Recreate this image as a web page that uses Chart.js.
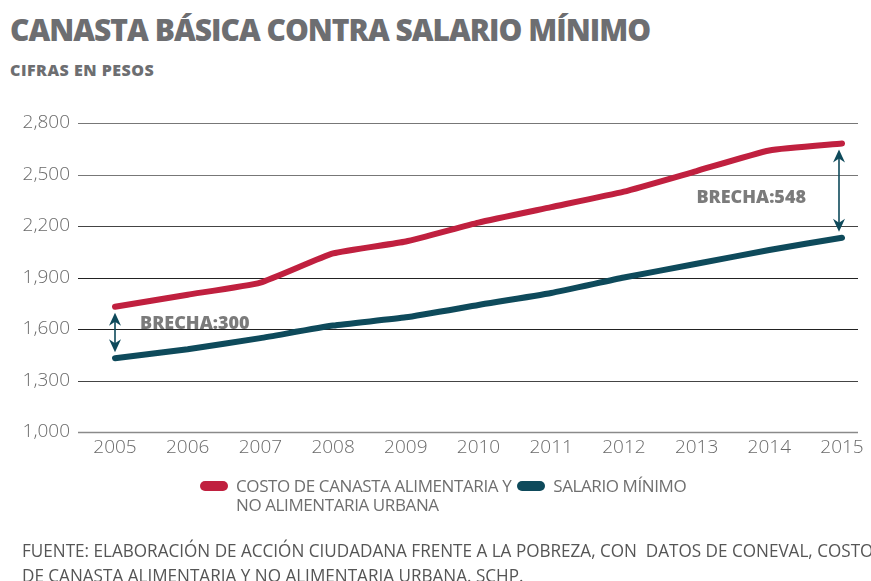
<!DOCTYPE html>
<html>
<head>
<meta charset="utf-8">
<script src="https://cdn.jsdelivr.net/npm/chart.js@4"></script>
<style>
  html,body{margin:0;padding:0;background:#fff;}
  body{width:871px;height:581px;position:relative;overflow:hidden;font-family:"Open Sans",sans-serif;}
  #title{position:absolute;left:10px;top:11px;font-size:30px;font-weight:800;color:#6d6e71;letter-spacing:-1px;white-space:nowrap;line-height:38px;}
  #subtitle{position:absolute;left:10px;top:59px;font-size:16px;font-weight:800;color:#6d6e71;letter-spacing:0.5px;white-space:nowrap;}
  #c{position:absolute;left:0;top:0;}
  #legend{position:absolute;left:200px;top:476px;display:flex;align-items:flex-start;color:#6f6f6f;font-size:17px;line-height:19px;letter-spacing:-0.4px;}
  .item{display:flex;align-items:flex-start;margin-right:6px;}
  .sw{width:28px;height:10px;border-radius:5px;margin-top:5px;margin-right:8px;flex:none;}
  #source{position:absolute;left:22px;top:538px;width:980px;white-space:nowrap;color:#555;font-size:19px;line-height:25px;transform:scaleX(0.9);transform-origin:0 0;}
</style>
</head>
<body>
<div id="title">CANASTA BÁSICA CONTRA SALARIO MÍNIMO</div>
<div id="subtitle">CIFRAS EN PESOS</div>
<canvas id="c" width="871" height="581"></canvas>
<div id="legend"></div>
<div id="source">FUENTE: ELABORACIÓN DE ACCIÓN CIUDADANA FRENTE A LA POBREZA, CON&nbsp; DATOS DE CONEVAL, COSTO<br>DE CANASTA ALIMENTARIA Y NO ALIMENTARIA URBANA. SCHP.</div>
<script>
// ---- data ----
const years = ['2005','2006','2007','2008','2009','2010','2011','2012','2013','2014','2015'];
const canasta = [1730,1800,1870,2040,2110,2220,2310,2400,2520,2640,2680];
const salario = [1430,1482,1547,1620,1668,1740,1810,1900,1980,2060,2132];
const yTicks = [1000,1300,1600,1900,2200,2500,2800];
const seriesLabels = [['COSTO DE CANASTA ALIMENTARIA Y','NO ALIMENTARIA URBANA'],['SALARIO MÍNIMO']];
const gapYears = ['2005','2015'];

const RED = '#c0203f';
const TEAL = '#0e4a5b';
const gridColors = {1000:'#8a8a8a',1300:'#444',1600:'#222',1900:'#222',2200:'#444',2500:'#777',2800:'#777'};

const extGrid = {
  id:'extGrid',
  beforeDatasetsDraw(chart){
    const {ctx, chartArea, scales:{y}} = chart;
    ctx.save();
    yTicks.forEach(v=>{
      const py = Math.round(y.getPixelForValue(v)) + 0.5;
      ctx.strokeStyle = gridColors[v] || '#555';
      ctx.lineWidth = v===1000 ? 1.6 : 1.2;
      ctx.beginPath();
      ctx.moveTo(chartArea.left-37, py);
      ctx.lineTo(chartArea.right+16, py);
      ctx.stroke();
    });
    ctx.restore();
  }
};

function arrowHead(ctx,x,y,dir){
  ctx.beginPath();
  ctx.moveTo(x,y);
  ctx.lineTo(x-6,y+dir*13);
  ctx.lineTo(x,y+dir*9);
  ctx.lineTo(x+6,y+dir*13);
  ctx.closePath();
  ctx.fill();
}

const gapPlugin = {
  id:'gapPlugin',
  afterDatasetsDraw(chart){
    const {ctx, scales:{x,y}} = chart;
    ctx.save();
    gapYears.forEach((yr,i)=>{
      const idx = years.indexOf(yr);
      const top = canasta[idx], bot = salario[idx];
      const px = x.getPixelForValue(idx) - (i===0?0:3);
      const yTop = y.getPixelForValue(top)+6;
      const yBot = y.getPixelForValue(bot)-6;
      ctx.strokeStyle = TEAL; ctx.fillStyle = TEAL; ctx.lineWidth = 1.6;
      ctx.beginPath(); ctx.moveTo(px,yTop+4); ctx.lineTo(px,yBot-4); ctx.stroke();
      arrowHead(ctx,px,yTop,1);
      arrowHead(ctx,px,yBot,-1);
      const txt = 'BRECHA:' + (top-bot);
      ctx.font = '800 18px "Open Sans"';
      ctx.fillStyle = '#7b7b7b';
      ctx.textBaseline = 'middle';
      const mid = (y.getPixelForValue(top)+y.getPixelForValue(bot))/2;
      if(i===0){ ctx.textAlign='left'; ctx.fillText(txt, px+25, mid-9); }
      else { ctx.textAlign='right'; ctx.fillText(txt, px-33, mid+7); }
    });
    ctx.restore();
  }
};

const chart = new Chart(document.getElementById('c'),{
  type:'line',
  data:{
    labels: years,
    datasets:[
      {label:seriesLabels[0].join(' '), data:canasta, borderColor:RED, backgroundColor:RED, borderWidth:6, pointRadius:0, tension:0.15, borderCapStyle:'round'},
      {label:seriesLabels[1].join(' '), data:salario, borderColor:TEAL, backgroundColor:TEAL, borderWidth:6, pointRadius:0, tension:0.15, borderCapStyle:'round'}
    ]
  },
  options:{
    responsive:false,
    animation:false,
    layout:{padding:{left:0,right:29,top:123,bottom:119}},
    plugins:{legend:{display:false},tooltip:{enabled:false},title:{display:false}},
    scales:{
      x:{
        type:'category',
        offset:false,
        grid:{display:false,drawTicks:false},
        border:{display:false},
        ticks:{color:'#6a6a6a',font:{family:'Open Sans',size:19,weight:300},padding:4,maxRotation:0,autoSkip:false},
        afterFit(s){ s.height = 30; }
      },
      y:{
        min:1000,max:2800,
        grid:{display:false,drawTicks:false},
        border:{display:false},
        afterBuildTicks(s){ s.ticks = yTicks.map(v=>({value:v})); },
        ticks:{color:'#6a6a6a',font:{family:'Open Sans',size:19,weight:300},padding:45,
          callback:v=>v.toLocaleString('en-US')},
        afterFit(s){ s.width = 115; }
      }
    }
  },
  plugins:[extGrid,gapPlugin]
});

// legend (HTML) from datasets
const lg = document.getElementById('legend');
chart.data.datasets.forEach((ds,i)=>{
  const it = document.createElement('div'); it.className='item';
  const sw = document.createElement('div'); sw.className='sw'; sw.style.background = ds.borderColor;
  const tx = document.createElement('div'); tx.innerHTML = seriesLabels[i].join('<br>');
  it.appendChild(sw); it.appendChild(tx); lg.appendChild(it);
});
</script>
</body>
</html>
